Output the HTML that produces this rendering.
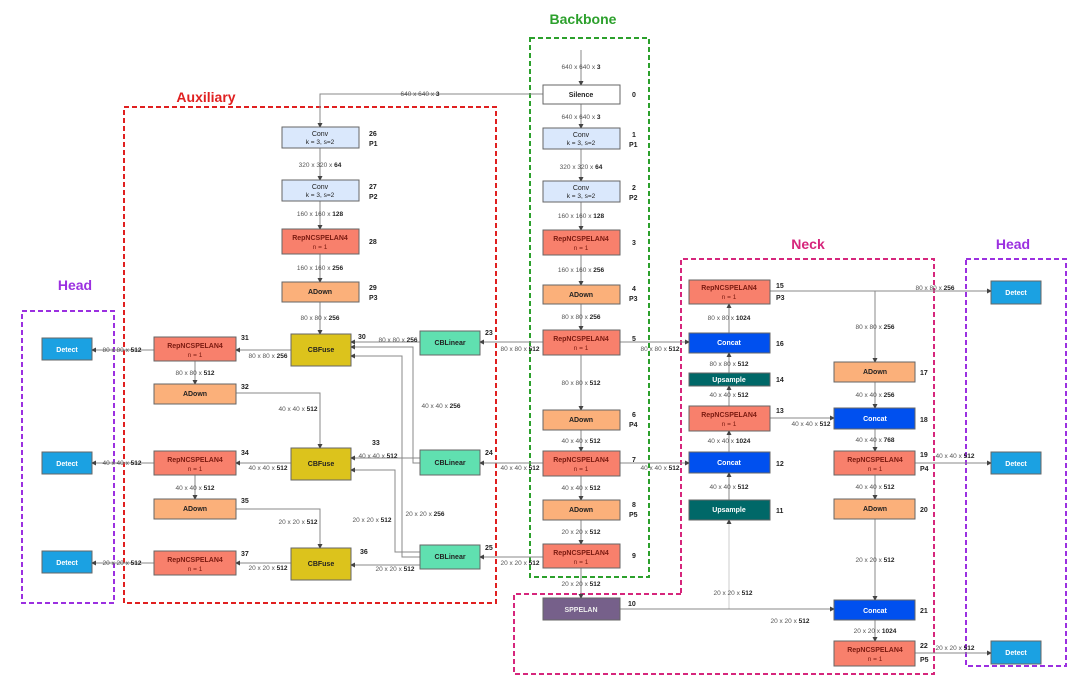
<!DOCTYPE html>
<html><head><meta charset="utf-8"><style>
html,body{margin:0;padding:0;background:#fff}
svg{display:block;font-family:"Liberation Sans",sans-serif}
.l{stroke:#888;stroke-width:1;fill:none}
.t{font-size:6.5px;fill:#555;text-anchor:middle}
.t tspan{font-weight:bold;fill:#222}
.n{font-size:7px;font-weight:bold;fill:#222}
.bx{font-size:7px;font-weight:bold;text-anchor:middle}
.sb{font-size:6.5px;text-anchor:middle}
</style></head><body>
<svg width="1080" height="676" viewBox="0 0 1080 676" xmlns="http://www.w3.org/2000/svg">
<defs><marker id="a" markerWidth="5" markerHeight="5" refX="4" refY="2.5" orient="auto"><path d="M0,0 L5,2.5 L0,5z" fill="#444"/></marker></defs>

<!-- titles -->
<text x="583" y="24" font-size="14" font-weight="bold" fill="#2ca02c" text-anchor="middle">Backbone</text>
<text x="206" y="102" font-size="14" font-weight="bold" fill="#e02020" text-anchor="middle">Auxiliary</text>
<text x="808" y="249" font-size="14" font-weight="bold" fill="#d6267c" text-anchor="middle">Neck</text>
<text x="75" y="290" font-size="14" font-weight="bold" fill="#9b30e0" text-anchor="middle">Head</text>
<text x="1013" y="249" font-size="14" font-weight="bold" fill="#9b30e0" text-anchor="middle">Head</text>

<!-- dashed regions -->
<rect x="530" y="38" width="119" height="539" fill="none" stroke="#2ca02c" stroke-width="2" stroke-dasharray="5,3"/>
<rect x="124" y="107" width="372" height="496" fill="none" stroke="#e02020" stroke-width="2" stroke-dasharray="5,3"/>
<path d="M681,593 L681,259 L934,259 L934,674 L514,674 L514,594 L681,594" fill="none" stroke="#d6267c" stroke-width="2" stroke-dasharray="5,3"/>
<rect x="22" y="311" width="92" height="292" fill="none" stroke="#9b30e0" stroke-width="2" stroke-dasharray="5,3"/>
<rect x="966" y="259" width="100" height="407" fill="none" stroke="#9b30e0" stroke-width="2" stroke-dasharray="5,3"/>

<!-- connectors -->
<g class="l" marker-end="url(#a)">
<path d="M581,50 V85"/><path d="M581,104 V128"/><path d="M581,149 V181"/><path d="M581,202 V230"/><path d="M581,255 V285"/><path d="M581,304 V330"/><path d="M581,355 V410"/><path d="M581,430 V451"/><path d="M581,476 V500"/><path d="M581,520 V544"/><path d="M581,568 V598"/>
<path d="M543,94 H320 V127"/>
<path d="M320,148 V180"/><path d="M320,201 V229"/><path d="M320,254 V282"/><path d="M320,302 V334"/>
<path d="M291,350 H236"/><path d="M154,350 H92"/><path d="M195,361 V384"/><path d="M236,393 H320 V448"/>
<path d="M420,342 H351"/><path d="M420,463 H413 V347 H351"/><path d="M420,557 H402 V356 H351"/>
<path d="M543,342 H480"/><path d="M543,463 H480"/><path d="M543,557 H480"/>
<path d="M420,458 H351"/><path d="M420,552 H395 V470 H351"/>
<path d="M291,463 H236"/><path d="M154,463 H92"/><path d="M195,475 V499"/><path d="M236,509 H320 V548"/>
<path d="M420,565 H351"/><path d="M291,563 H236"/><path d="M154,563 H92"/>
<path d="M620,342 H689"/><path d="M620,463 H689"/>
<path d="M729,333 V304"/><path d="M729,373 V353"/><path d="M729,406 V386"/><path d="M729,452 V431"/><path d="M729,500 V473"/><path d="M729,609 V520" stroke="#ccc"/>
<path d="M620,609 H834"/>
<path d="M770,291 H991"/><path d="M875,291 V362"/><path d="M875,382 V408"/><path d="M770,418 H834"/><path d="M875,429 V451"/><path d="M915,463 H991"/><path d="M875,475 V499"/><path d="M875,519 V600"/><path d="M875,620 V641"/><path d="M915,653 H991"/>
</g>

<!-- edge labels -->
<g class="t">
<text x="581" y="69">640 x 640 x <tspan>3</tspan></text>
<text x="581" y="119">640 x 640 x <tspan>3</tspan></text>
<text x="581" y="169">320 x 320 x <tspan>64</tspan></text>
<text x="581" y="218">160 x 160 x <tspan>128</tspan></text>
<text x="581" y="272">160 x 160 x <tspan>256</tspan></text>
<text x="581" y="319">80 x 80 x <tspan>256</tspan></text>
<text x="581" y="385">80 x 80 x <tspan>512</tspan></text>
<text x="581" y="443">40 x 40 x <tspan>512</tspan></text>
<text x="581" y="490">40 x 40 x <tspan>512</tspan></text>
<text x="581" y="534">20 x 20 x <tspan>512</tspan></text>
<text x="581" y="586">20 x 20 x <tspan>512</tspan></text>
<text x="420" y="96">640 x 640 x <tspan>3</tspan></text>
<text x="320" y="167">320 x 320 x <tspan>64</tspan></text>
<text x="320" y="216">160 x 160 x <tspan>128</tspan></text>
<text x="320" y="270">160 x 160 x <tspan>256</tspan></text>
<text x="320" y="320">80 x 80 x <tspan>256</tspan></text>
<text x="268" y="358">80 x 80 x <tspan>256</tspan></text>
<text x="122" y="352">80 x 80 x <tspan>512</tspan></text>
<text x="195" y="375">80 x 80 x <tspan>512</tspan></text>
<text x="298" y="411">40 x 40 x <tspan>512</tspan></text>
<text x="398" y="342">80 x 80 x <tspan>256</tspan></text>
<text x="441" y="408">40 x 40 x <tspan>256</tspan></text>
<text x="520" y="351">80 x 80 x <tspan>512</tspan></text>
<text x="660" y="351">80 x 80 x <tspan>512</tspan></text>
<text x="378" y="458">40 x 40 x <tspan>512</tspan></text>
<text x="268" y="470">40 x 40 x <tspan>512</tspan></text>
<text x="122" y="465">40 x 40 x <tspan>512</tspan></text>
<text x="195" y="490">40 x 40 x <tspan>512</tspan></text>
<text x="520" y="470">40 x 40 x <tspan>512</tspan></text>
<text x="660" y="470">40 x 40 x <tspan>512</tspan></text>
<text x="298" y="524">20 x 20 x <tspan>512</tspan></text>
<text x="372" y="522">20 x 20 x <tspan>512</tspan></text>
<text x="425" y="516">20 x 20 x <tspan>256</tspan></text>
<text x="395" y="571">20 x 20 x <tspan>512</tspan></text>
<text x="268" y="570">20 x 20 x <tspan>512</tspan></text>
<text x="122" y="565">20 x 20 x <tspan>512</tspan></text>
<text x="520" y="565">20 x 20 x <tspan>512</tspan></text>
<text x="729" y="320">80 x 80 x <tspan>1024</tspan></text>
<text x="729" y="366">80 x 80 x <tspan>512</tspan></text>
<text x="729" y="397">40 x 40 x <tspan>512</tspan></text>
<text x="729" y="443">40 x 40 x <tspan>1024</tspan></text>
<text x="729" y="489">40 x 40 x <tspan>512</tspan></text>
<text x="733" y="595">20 x 20 x <tspan>512</tspan></text>
<text x="790" y="623">20 x 20 x <tspan>512</tspan></text>
<text x="935" y="290">80 x 80 x <tspan>256</tspan></text>
<text x="875" y="329">80 x 80 x <tspan>256</tspan></text>
<text x="875" y="397">40 x 40 x <tspan>256</tspan></text>
<text x="811" y="426">40 x 40 x <tspan>512</tspan></text>
<text x="875" y="442">40 x 40 x <tspan>768</tspan></text>
<text x="955" y="458">40 x 40 x <tspan>512</tspan></text>
<text x="875" y="489">40 x 40 x <tspan>512</tspan></text>
<text x="875" y="562">20 x 20 x <tspan>512</tspan></text>
<text x="875" y="633">20 x 20 x <tspan>1024</tspan></text>
<text x="955" y="650">20 x 20 x <tspan>512</tspan></text>
</g>

<!-- nodes -->
<g stroke="#666" stroke-width="1">
<rect x="543" y="85" width="77" height="19" fill="#fff"/>
<rect x="543" y="128" width="77" height="21" fill="#dae8fc"/>
<rect x="543" y="181" width="77" height="21" fill="#dae8fc"/>
<rect x="543" y="230" width="77" height="25" fill="#f8806c"/>
<rect x="543" y="285" width="77" height="19" fill="#fbb07a"/>
<rect x="543" y="330" width="77" height="25" fill="#f8806c"/>
<rect x="543" y="410" width="77" height="20" fill="#fbb07a"/>
<rect x="543" y="451" width="77" height="25" fill="#f8806c"/>
<rect x="543" y="500" width="77" height="20" fill="#fbb07a"/>
<rect x="543" y="544" width="77" height="24" fill="#f8806c"/>
<rect x="543" y="598" width="77" height="22" fill="#76608a"/>
<rect x="282" y="127" width="77" height="21" fill="#dae8fc"/>
<rect x="282" y="180" width="77" height="21" fill="#dae8fc"/>
<rect x="282" y="229" width="77" height="25" fill="#f8806c"/>
<rect x="282" y="282" width="77" height="20" fill="#fbb07a"/>
<rect x="291" y="334" width="60" height="32" fill="#dcc31c"/>
<rect x="291" y="448" width="60" height="32" fill="#dcc31c"/>
<rect x="291" y="548" width="60" height="32" fill="#dcc31c"/>
<rect x="154" y="337" width="82" height="24" fill="#f8806c"/>
<rect x="154" y="384" width="82" height="20" fill="#fbb07a"/>
<rect x="154" y="451" width="82" height="24" fill="#f8806c"/>
<rect x="154" y="499" width="82" height="20" fill="#fbb07a"/>
<rect x="154" y="551" width="82" height="24" fill="#f8806c"/>
<rect x="420" y="331" width="60" height="24" fill="#60e0b0"/>
<rect x="420" y="450" width="60" height="25" fill="#60e0b0"/>
<rect x="420" y="545" width="60" height="24" fill="#60e0b0"/>
<rect x="42" y="338" width="50" height="22" fill="#1ba1e2"/>
<rect x="42" y="452" width="50" height="22" fill="#1ba1e2"/>
<rect x="42" y="551" width="50" height="22" fill="#1ba1e2"/>
<rect x="689" y="280" width="81" height="24" fill="#f8806c"/>
<rect x="689" y="333" width="81" height="20" fill="#0050ef"/>
<rect x="689" y="373" width="81" height="13" fill="#006868"/>
<rect x="689" y="406" width="81" height="25" fill="#f8806c"/>
<rect x="689" y="452" width="81" height="21" fill="#0050ef"/>
<rect x="689" y="500" width="81" height="20" fill="#006868"/>
<rect x="834" y="362" width="81" height="20" fill="#fbb07a"/>
<rect x="834" y="408" width="81" height="21" fill="#0050ef"/>
<rect x="834" y="451" width="81" height="24" fill="#f8806c"/>
<rect x="834" y="499" width="81" height="20" fill="#fbb07a"/>
<rect x="834" y="600" width="81" height="20" fill="#0050ef"/>
<rect x="834" y="641" width="81" height="25" fill="#f8806c"/>
<rect x="991" y="281" width="50" height="23" fill="#1ba1e2"/>
<rect x="991" y="452" width="50" height="22" fill="#1ba1e2"/>
<rect x="991" y="641" width="50" height="23" fill="#1ba1e2"/>
</g>

<g class="bx" fill="#222">
<text x="581" y="97">Silence</text>
<text x="581" y="137" font-weight="normal">Conv</text><text class="sb" x="581" y="145" font-weight="normal">k = 3, s=2</text>
<text x="581" y="190" font-weight="normal">Conv</text><text class="sb" x="581" y="198" font-weight="normal">k = 3, s=2</text>
<text x="581" y="241" fill="#7a1a10">RepNCSPELAN4</text><text class="sb" x="581" y="250" fill="#7a1a10" font-weight="normal">n = 1</text>
<text x="581" y="297">ADown</text>
<text x="581" y="341" fill="#7a1a10">RepNCSPELAN4</text><text class="sb" x="581" y="350" fill="#7a1a10" font-weight="normal">n = 1</text>
<text x="581" y="422">ADown</text>
<text x="581" y="462" fill="#7a1a10">RepNCSPELAN4</text><text class="sb" x="581" y="471" fill="#7a1a10" font-weight="normal">n = 1</text>
<text x="581" y="512">ADown</text>
<text x="581" y="555" fill="#7a1a10">RepNCSPELAN4</text><text class="sb" x="581" y="564" fill="#7a1a10" font-weight="normal">n = 1</text>
<text x="581" y="612" fill="#eee">SPPELAN</text>
<text x="320" y="136" font-weight="normal">Conv</text><text class="sb" x="320" y="144" font-weight="normal">k = 3, s=2</text>
<text x="320" y="189" font-weight="normal">Conv</text><text class="sb" x="320" y="197" font-weight="normal">k = 3, s=2</text>
<text x="320" y="240" fill="#7a1a10">RepNCSPELAN4</text><text class="sb" x="320" y="249" fill="#7a1a10" font-weight="normal">n = 1</text>
<text x="320" y="294">ADown</text>
<text x="321" y="352">CBFuse</text><text x="321" y="466">CBFuse</text><text x="321" y="566">CBFuse</text>
<text x="195" y="348" fill="#7a1a10">RepNCSPELAN4</text><text class="sb" x="195" y="357" fill="#7a1a10" font-weight="normal">n = 1</text>
<text x="195" y="396">ADown</text>
<text x="195" y="462" fill="#7a1a10">RepNCSPELAN4</text><text class="sb" x="195" y="471" fill="#7a1a10" font-weight="normal">n = 1</text>
<text x="195" y="511">ADown</text>
<text x="195" y="562" fill="#7a1a10">RepNCSPELAN4</text><text class="sb" x="195" y="571" fill="#7a1a10" font-weight="normal">n = 1</text>
<text x="450" y="345">CBLinear</text><text x="450" y="465">CBLinear</text><text x="450" y="559">CBLinear</text>
<g fill="#fff"><text x="67" y="352">Detect</text><text x="67" y="466">Detect</text><text x="67" y="565">Detect</text>
<text x="1016" y="295">Detect</text><text x="1016" y="466">Detect</text><text x="1016" y="655">Detect</text>
<text x="729" y="345">Concat</text><text x="729" y="382">Upsample</text><text x="729" y="465">Concat</text><text x="729" y="512">Upsample</text>
<text x="875" y="421">Concat</text><text x="875" y="613">Concat</text></g>
<text x="729" y="290" fill="#7a1a10">RepNCSPELAN4</text><text class="sb" x="729" y="299" fill="#7a1a10" font-weight="normal">n = 1</text>
<text x="729" y="417" fill="#7a1a10">RepNCSPELAN4</text><text class="sb" x="729" y="426" fill="#7a1a10" font-weight="normal">n = 1</text>
<text x="875" y="374">ADown</text>
<text x="875" y="462" fill="#7a1a10">RepNCSPELAN4</text><text class="sb" x="875" y="471" fill="#7a1a10" font-weight="normal">n = 1</text>
<text x="875" y="511">ADown</text>
<text x="875" y="652" fill="#7a1a10">RepNCSPELAN4</text><text class="sb" x="875" y="661" fill="#7a1a10" font-weight="normal">n = 1</text>
</g>

<!-- numbers -->
<g class="n">
<text x="632" y="97">0</text><text x="632" y="137">1</text><text x="629" y="147">P1</text>
<text x="632" y="190">2</text><text x="629" y="200">P2</text>
<text x="632" y="245">3</text><text x="632" y="291">4</text><text x="629" y="301">P3</text>
<text x="632" y="341">5</text><text x="632" y="417">6</text><text x="629" y="427">P4</text>
<text x="632" y="462">7</text><text x="632" y="507">8</text><text x="629" y="517">P5</text>
<text x="632" y="558">9</text><text x="628" y="606">10</text>
<text x="369" y="136">26</text><text x="369" y="146">P1</text>
<text x="369" y="189">27</text><text x="369" y="199">P2</text>
<text x="369" y="244">28</text><text x="369" y="290">29</text><text x="369" y="300">P3</text>
<text x="358" y="339">30</text><text x="372" y="445">33</text><text x="360" y="554">36</text>
<text x="241" y="340">31</text><text x="241" y="389">32</text><text x="241" y="455">34</text><text x="241" y="503">35</text><text x="241" y="556">37</text>
<text x="485" y="335">23</text><text x="485" y="455">24</text><text x="485" y="550">25</text>
<text x="776" y="288">15</text><text x="776" y="300">P3</text><text x="776" y="346">16</text><text x="776" y="382">14</text>
<text x="776" y="413">13</text><text x="776" y="466">12</text><text x="776" y="513">11</text>
<text x="920" y="375">17</text><text x="920" y="422">18</text><text x="920" y="457">19</text><text x="920" y="471">P4</text>
<text x="920" y="512">20</text><text x="920" y="613">21</text><text x="920" y="648">22</text><text x="920" y="662">P5</text>
</g>
</svg>
</body></html>
